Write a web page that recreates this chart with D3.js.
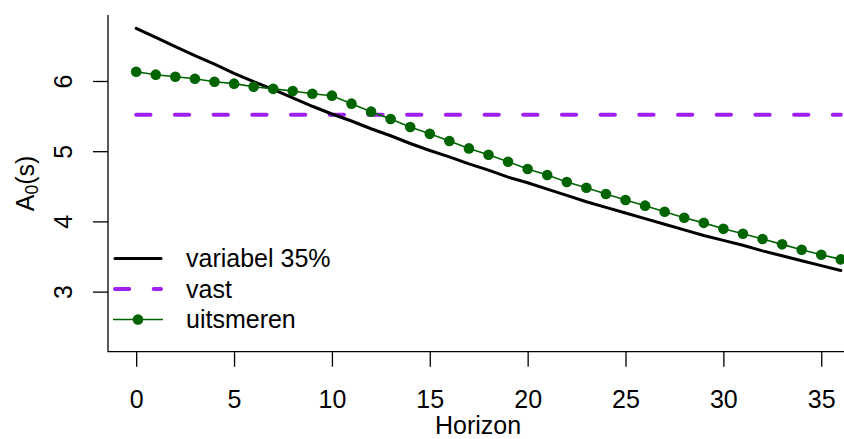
<!DOCTYPE html>
<html>
<head>
<meta charset="utf-8">
<script src="https://cdn.jsdelivr.net/npm/d3@7"></script>
<style>
    body { margin: 0; background: #fff; }
    text { font-family: "Liberation Sans", Arial, Helvetica, sans-serif; fill: #000; }
</style>
</head>
<body>
<div id="container"></div>
<script>
// horizon values (x) and the three series
const horizon = [0, 1, 2, 3, 4, 5, 6, 7, 8, 9, 10, 11, 12, 13, 14, 15, 16, 17, 18,
    19, 20, 21, 22, 23, 24, 25, 26, 27, 28, 29, 30, 31, 32, 33, 34, 35, 36];

const variabel = [6.75, 6.62, 6.49, 6.36, 6.24, 6.11, 5.99, 5.88, 5.76, 5.64, 5.53,
    5.43, 5.32, 5.22, 5.11, 5.01, 4.92, 4.82, 4.73, 4.63, 4.55, 4.46, 4.37, 4.28,
    4.20, 4.12, 4.04, 3.96, 3.88, 3.80, 3.73, 3.66, 3.58, 3.51, 3.44, 3.37, 3.30];

const vast = [5.52, 5.52, 5.52, 5.52, 5.52, 5.52, 5.52, 5.52, 5.52, 5.52, 5.52,
    5.52, 5.52, 5.52, 5.52, 5.52, 5.52, 5.52, 5.52, 5.52, 5.52, 5.52, 5.52, 5.52,
    5.52, 5.52, 5.52, 5.52, 5.52, 5.52, 5.52, 5.52, 5.52, 5.52, 5.52, 5.52, 5.52];

const uitsmeren = [6.132, 6.090, 6.061, 6.033, 5.990, 5.962, 5.919, 5.888, 5.858,
    5.819, 5.791, 5.677, 5.563, 5.459, 5.345, 5.247, 5.145, 5.040, 4.950, 4.850,
    4.746, 4.661, 4.561, 4.480, 4.390, 4.305, 4.224, 4.138, 4.053, 3.979, 3.894,
    3.825, 3.749, 3.673, 3.597, 3.526, 3.459];

const xTicks = [0, 5, 10, 15, 20, 25, 30, 35];
const yTicks = [3, 4, 5, 6];
const legendLabels = ["variabel 35%", "vast", "uitsmeren"];

// Declare the chart dimensions and margins.
const width = 844;
const height = 439;
const marginLeft = 108;
const plotRight = 869;   // plot region runs past the right edge of the picture
const marginTop = 15;
const plotBottom = 351.7;
const fontSize = 25;

const x = d3.scaleLinear()
    .domain([-1.44, 37.44])
    .range([marginLeft, plotRight]);

const y = d3.scaleLinear()
    .domain([2.144, 6.94])
    .range([plotBottom, marginTop]);

const svg = d3.select("#container").append("svg")
    .attr("width", width)
    .attr("height", height);

// L-shaped box
svg.append("path")
    .attr("d", `M${marginLeft},${marginTop}V${plotBottom}H${width}`)
    .attr("fill", "none")
    .attr("stroke", "#000")
    .attr("stroke-width", 1.3);

// x axis
const gx = svg.append("g")
    .attr("transform", `translate(0,${plotBottom})`)
    .call(d3.axisBottom(x).tickValues(xTicks).tickSize(15).tickPadding(23.5));
gx.select(".domain").remove();
gx.selectAll("line").attr("stroke-width", 1.3);
gx.selectAll("text").style("font-size", fontSize + "px");

// y axis, labels parallel to the axis
const gy = svg.append("g")
    .attr("transform", `translate(${marginLeft},0)`)
    .call(d3.axisLeft(y).tickValues(yTicks).tickSize(15).tickFormat(d3.format("d")));
gy.select(".domain").remove();
gy.selectAll("line").attr("stroke-width", 1.3);
gy.selectAll("text")
    .attr("x", null)
    .attr("dy", null)
    .attr("transform", "translate(-36,0) rotate(-90)")
    .style("text-anchor", "middle")
    .style("font-size", fontSize + "px");

// axis titles
svg.append("text")
    .attr("x", 478)
    .attr("y", 434)
    .attr("text-anchor", "middle")
    .style("font-size", fontSize + "px")
    .text("Horizon");

const ylab = svg.append("text")
    .attr("transform", `translate(34,${(marginTop + plotBottom) / 2}) rotate(-90)`)
    .attr("text-anchor", "middle")
    .style("font-size", fontSize + "px");
ylab.append("tspan").text("A");
ylab.append("tspan").attr("dy", 4).style("font-size", "17.5px").text("0");
ylab.append("tspan").attr("dy", -4).text("(s)");

const line = d3.line()
    .x((d, i) => x(horizon[i]))
    .y(d => y(d));

// fixed (vast) - dashed purple
svg.append("path")
    .datum(vast)
    .attr("fill", "none")
    .attr("stroke", "#A020F0")
    .attr("stroke-width", 4)
    .attr("stroke-linecap", "round")
    .attr("stroke-dasharray", "14.3,24.4")
    .attr("d", line);

// variabel 35% - black
svg.append("path")
    .datum(variabel)
    .attr("fill", "none")
    .attr("stroke", "#000")
    .attr("stroke-width", 3)
    .attr("stroke-linecap", "round")
    .attr("d", line);

// uitsmeren - dark green line with points
svg.append("path")
    .datum(uitsmeren)
    .attr("fill", "none")
    .attr("stroke", "#006400")
    .attr("stroke-width", 1.6)
    .attr("d", line);

svg.selectAll(".uit-point")
    .data(uitsmeren)
    .enter()
    .append("circle")
        .attr("class", "uit-point")
        .attr("cx", (d, i) => x(horizon[i]))
        .attr("cy", d => y(d))
        .attr("r", 5.3)
        .attr("fill", "#006400");

// legend
const legendX = 113;
const legendY = 258.5;
const legendStep = 30.5;

const legend = svg.append("g");
legendLabels.forEach((label, i) => {
    const ly = legendY + i * legendStep;
    const seg = legend.append("line")
        .attr("x1", legendX + 2)
        .attr("x2", legendX + 48)
        .attr("y1", ly)
        .attr("y2", ly)
        .attr("stroke-linecap", "round");
    if (i === 0) {
        seg.attr("stroke", "#000").attr("stroke-width", 3);
    } else if (i === 1) {
        seg.attr("stroke", "#A020F0").attr("stroke-width", 4)
            .attr("stroke-dasharray", "14.3,24.4");
    } else {
        seg.attr("x1", legendX).attr("x2", legendX + 50)
            .attr("stroke", "#006400").attr("stroke-width", 1.6)
            .attr("stroke-linecap", "butt");
        legend.append("circle")
            .attr("cx", legendX + 25)
            .attr("cy", ly)
            .attr("r", 5.3)
            .attr("fill", "#006400");
    }
    legend.append("text")
        .attr("x", 186)
        .attr("y", ly)
        .attr("dy", "0.35em")
        .style("font-size", fontSize + "px")
        .text(label);
});
</script>
</body>
</html>
